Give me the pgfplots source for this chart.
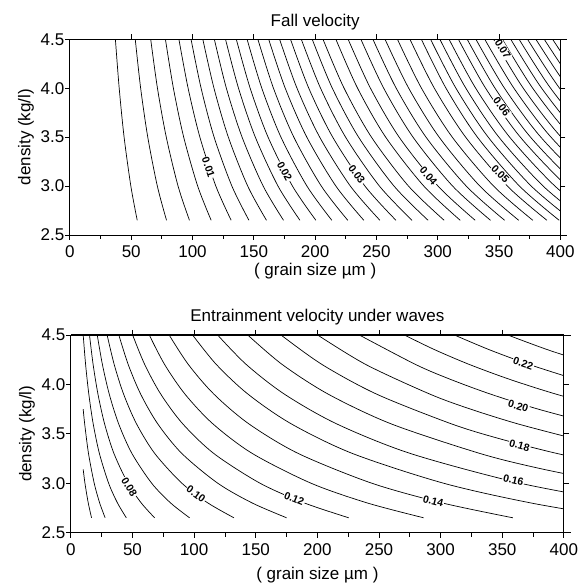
\documentclass[border=0pt]{standalone}
\usepackage{pgfplots}
\pgfplotsset{compat=1.18}
\usepackage{fontspec}
\setmainfont{Liberation Sans}
\tikzset{
  clabel/.style={font=\fontsize{10.5}{11}\selectfont\bfseries, fill=white,
    inner sep=0.8pt, anchor=center},
}
\begin{document}
\begin{tikzpicture}[x=1pt,y=1pt]
\pgfplotsset{
  panel/.style={
    scale only axis, anchor=south west,
    xmin=0, xmax=400, ymin=2.5, ymax=4.5,
    xtick={0,50,...,400}, minor x tick num=1,
    ytick={2.5,3,...,4.5},
    xtick pos=bottom, ytick pos=both, yticklabel pos=left,
    tick align=outside, major tick length=5pt, minor tick length=4pt,
    tick style={black, line width=0.8pt},
    separate axis lines,
    axis line style={line width=0.8pt},
    x axis line style={shorten >=-7pt},
    /pgf/number format/assume math mode=true,
    y tick label style={xshift=3pt, /pgf/number format/fixed,
      /pgf/number format/fixed zerofill, /pgf/number format/precision=1},
    x tick label style={yshift=-2pt},
    ticklabel style={font=\fontsize{17}{17}\selectfont},
    label style={font=\fontsize{17}{17}\selectfont},
    title style={font=\fontsize{17}{17}\selectfont},
    xlabel={( grain size µm )},
    ylabel={density (kg/l)},
    clip=true,
  },
  topticks/.style={
    scale only axis, anchor=south west,
    xmin=0, xmax=400, ymin=2.5, ymax=4.5,
    axis x line*=top, axis y line=none,
    xtick={50,100,...,350}, xticklabels={},
    tick align=outside, major tick length=5pt,
    tick style={black, line width=0.8pt},
    axis line style={line width=0.8pt},
  },
  contour/.style={black, line width=0.7pt, smooth, tension=0.5, no marks},
}
% ---------- fall velocity (contours every 0.002) ----------
\begin{axis}[panel, at={(57,356.7)}, width=490.5pt, height=195.7pt,
  title={Fall velocity}, xlabel style={at={(0.5,0)}, anchor=center, yshift=-36pt}]
\foreach \a/\b/\c/\d/\e in {
  54.9/49.7/44.2/40.2/37.1, 78.8/71.3/63.5/57.7/53.3, 97.5/88.2/78.6/71.4/65.9,
  115.2/104.2/92.8/84.4/77.9, 131.5/119.0/106.0/96.4/88.9, 146/132.1/117.6/107.0/98.8,
  160.3/145.0/129.2/117.5/108.4, 174.2/157.6/140.4/127.6/117.8, 187.6/169.7/151.2/137.5/126.9,
  200.6/181.5/161.6/147.0/135.7, 213.6/193.3/172.1/156.5/144.5, 226.6/205.0/182.6/166.0/153.3,
  239.7/216.9/193.2/175.6/162.1, 252.8/228.7/203.7/185.2/171.0, 265.9/240.6/214.3/194.8/179.9,
  279/252.4/224.8/204.4/188.7, 292.1/264.3/235.4/214.0/197.6, 305.2/276.1/245.9/223.6/206.4,
  318.3/288.6/257.5/234.6/216.9, 330.5/300.2/268.5/245.1/226.9, 343/312.1/279.8/255.9/237.3,
  354.5/323.2/290.4/266.1/247.1, 366/334.3/301.1/276.3/257.0, 377.5/345.5/311.8/286.7/267.1,
  389/356.7/322.7/297.2/277.3, 399/366.6/332.3/306.7/286.6, 409.5/376.2/341.1/314.8/294.1,
  420/385.9/349.8/322.9/301.7, 430.5/395.5/358.6/330.9/309.2, 441/405.2/367.3/339.0/316.8,
  451/414.4/375.6/346.7/324.0, 461/423.6/384.0/354.4/331.1, 471/432.8/392.3/362.1/338.3,
  481/441.9/400.6/369.7/345.5, 491/451.1/409.0/377.4/352.7, 500.5/459.9/416.9/384.7/359.5,
  510/468.6/424.8/392.0/366.3, 519.5/477.3/432.7/399.3/373.2, 529/486.0/440.6/406.6/380.0,
  538.5/494.8/448.5/413.9/386.8, 548/503.5/456.4/421.2/393.6}{
  \edef\temp{\noexpand\addplot[contour] coordinates {(\a,2.65) (\b,3.0) (\c,3.5) (\d,4.0) (\e,4.5)};}
  \temp
}
\node[clabel, rotate=-71] at (axis cs:113,3.19) {0.01};
\node[clabel, rotate=-62] at (axis cs:175,3.15) {0.02};
\node[clabel, rotate=-54] at (axis cs:234,3.12) {0.03};
\node[clabel, rotate=-49] at (axis cs:292.5,3.10) {0.04};
\node[clabel, rotate=-45] at (axis cs:351,3.12) {0.05};
\node[clabel, rotate=-53] at (axis cs:352,3.81) {0.06};
\node[clabel, rotate=-58] at (axis cs:353,4.40) {0.07};
\end{axis}
\begin{axis}[topticks, at={(57,356.7)}, width=490.5pt, height=195.7pt]
\end{axis}
% ---------- entrainment velocity under waves (contours every 0.01) ----------
\begin{axis}[panel, at={(57.5,52)}, width=493pt, height=197.7pt,
  title={Entrainment velocity under waves}, xlabel style={at={(0.5,0)}, anchor=center, yshift=-42pt}]
\addplot[contour] coordinates {(10,3.14) (11.42,3.0) (14.10,2.8) (16.78,2.65)};
\addplot[contour] coordinates {(10,3.75) (11.2,3.6) (14.31,3.3) (18.93,3.0) (23.37,2.8) (27.81,2.65)};
\addplot[contour] coordinates {(10,4.5) (11.96,4.2) (14.57,3.9) (18.12,3.6) (23.16,3.3) (30.63,3.0) (37.81,2.8) (45.0,2.65)};
\addplot[contour] coordinates {(15.1,4.5) (18.06,4.2) (22.0,3.9) (27.36,3.6) (34.97,3.3) (46.24,3.0) (57.09,2.8) (67.94,2.65)};
\addplot[contour] coordinates {(21.4,4.5) (25.6,4.2) (31.17,3.9) (38.78,3.6) (49.56,3.3) (65.54,3.0) (80.91,2.8) (96.29,2.65)};
\addplot[contour] coordinates {(29.4,4.5) (35.17,4.2) (42.82,3.9) (53.28,3.6) (68.08,3.3) (90.04,3.0) (111.16,2.8) (132.29,2.65)};
\addplot[contour] coordinates {(38.9,4.5) (46.54,4.2) (56.66,3.9) (70.49,3.6) (90.08,3.3) (119.13,3.0) (147.08,2.8) (175.03,2.65)};
\addplot[contour] coordinates {(50.1,4.5) (59.93,4.2) (72.98,3.9) (90.79,3.6) (116.02,3.3) (153.43,3.0) (189.42,2.8) (225.42,2.65)};
\addplot[contour] coordinates {(63.6,4.5) (76.08,4.2) (92.64,3.9) (115.25,3.6) (147.28,3.3) (194.78,3.0) (240.47,2.8) (286.17,2.65)};
\addplot[contour] coordinates {(79.7,4.5) (95.35,4.2) (116.09,3.9) (144.42,3.6) (184.56,3.3) (244.08,3.0) (301.34,2.8) (358.61,2.65)};
\addplot[contour] coordinates {(98.7,4.5) (118.07,4.2) (143.77,3.9) (178.85,3.6) (228.56,3.3) (302.27,3.0) (373.17,2.8) (444.1,2.65)};
\addplot[contour] coordinates {(119,4.5) (142.36,4.2) (173.34,3.9) (215.64,3.6) (275.57,3.3) (364.44,3.0) (449.93,2.8)};
\addplot[contour] coordinates {(143.4,4.5) (171.55,4.2) (208.88,3.9) (259.86,3.6) (332.07,3.3) (380.0,3.15) (439.16,3.0)};
\addplot[contour] coordinates {(170.4,4.5) (203.85,4.2) (248.2,3.9) (308.78,3.6) (347.75,3.45) (394.6,3.3) (451.6,3.15)};
\addplot[contour] coordinates {(200.1,4.5) (239.38,4.2) (291.47,3.9) (324.1,3.75) (362.6,3.6) (408.4,3.45)};
\addplot[contour] coordinates {(233.9,4.5) (279.81,4.2) (308.0,4.05) (340.7,3.9) (378.9,3.75) (423.85,3.6)};
\addplot[contour] coordinates {(270.4,4.5) (295.2,4.35) (323.48,4.2) (356.1,4.05) (393.86,3.9) (438.0,3.75)};
\addplot[contour] coordinates {(311,4.5) (339.5,4.35) (372.05,4.2) (409.6,4.05)};
\addplot[contour] coordinates {(354.3,4.5) (386.8,4.35) (423.85,4.2)};
\node[clabel, rotate=-59] at (axis cs:47.3,2.96) {0.08};
\node[clabel, rotate=-36] at (axis cs:101.5,2.89) {0.10};
\node[clabel, rotate=-22] at (axis cs:181.2,2.84) {0.12};
\node[clabel, rotate=-14] at (axis cs:294,2.82) {0.14};
\node[clabel, rotate=-13] at (axis cs:359,3.03) {0.16};
\node[clabel, rotate=-15] at (axis cs:364,3.38) {0.18};
\node[clabel, rotate=-17] at (axis cs:363,3.78) {0.20};
\node[clabel, rotate=-19] at (axis cs:367,4.21) {0.22};
\end{axis}
\begin{axis}[topticks, at={(57.5,52)}, width=493pt, height=197.7pt]
\end{axis}
\pgfresetboundingbox
\useasboundingbox (0,0) rectangle (585,584);
\end{tikzpicture}
\end{document}
